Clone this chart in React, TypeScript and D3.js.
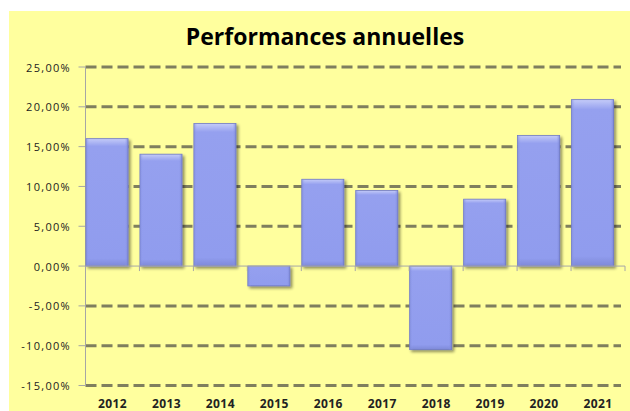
import React from "react";
import * as d3 from "d3";

const years = ["2012", "2013", "2014", "2015", "2016", "2017", "2018", "2019", "2020", "2021"];
const performances = [16.0, 14.05, 17.9, -2.5, 10.9, 9.5, -10.5, 8.4, 16.4, 20.9];
const yTicks = [-15, -10, -5, 0, 5, 10, 15, 20, 25];
const title = "Performances annuelles";

const W = 630;
const H = 411;
const left = 85.5;
const right = 625;
const top = 67;
const bottom = 385.5;

const fmt = (v: number) => v.toFixed(2).replace(".", ",") + "%";

export default function App() {
  const x = d3.scaleBand<string>().domain(years).range([left, right]).padding(0);
  const y = d3.scaleLinear().domain([-15, 25]).range([bottom, top]);
  const bw = x.bandwidth() * 0.78;
  const y0 = y(0);
  const font = "'Open Sans', sans-serif";
  return (
    <svg width={W} height={H} style={{ position: "absolute", left: 0, top: 0 }}>
      <defs>
        <linearGradient id="barV" x1="0" y1="0" x2="0" y2="1">
          <stop offset="0" stopColor="#c4cbf8" />
          <stop offset="0.06" stopColor="#95a0ef" />
          <stop offset="0.94" stopColor="#909cee" />
          <stop offset="1" stopColor="#7e89d8" />
        </linearGradient>
        <linearGradient id="barH" x1="0" y1="0" x2="1" y2="0">
          <stop offset="0" stopColor="#7d88d6" stopOpacity="0.6" />
          <stop offset="0.08" stopColor="#929eef" stopOpacity="0" />
          <stop offset="0.92" stopColor="#929eef" stopOpacity="0" />
          <stop offset="1" stopColor="#6f79c8" stopOpacity="0.7" />
        </linearGradient>
        <filter id="shadow" x="-20%" y="-20%" width="150%" height="150%">
          <feGaussianBlur in="SourceAlpha" stdDeviation="1.5" />
          <feOffset dx="2" dy="2" result="b" />
          <feComponentTransfer>
            <feFuncA type="linear" slope="0.45" />
          </feComponentTransfer>
          <feMerge>
            <feMergeNode />
            <feMergeNode in="SourceGraphic" />
          </feMerge>
        </filter>
      </defs>
      <rect x={9} y={11} width={W - 9} height={H - 11} fill="#ffff9e" />
      <text x={325} y={44.5} textAnchor="middle" fontFamily={font} fontWeight="bold" fontSize={23} fill="#000">
        {title}
      </text>
      {yTicks.filter((t) => t !== 0).map((t) => (
        <line key={"g" + t} x1={left} x2={621} y1={y(t)} y2={y(t)} stroke="#7f7f5e" strokeWidth={3} strokeDasharray="11,5" />
      ))}
      <line x1={left} x2={left} y1={top} y2={bottom} stroke="#a6a6a6" strokeWidth={1} />
      {yTicks.map((t) => (
        <g key={"t" + t}>
          <line x1={left - 7} x2={left} y1={y(t)} y2={y(t)} stroke="#a6a6a6" />
          <text x={71} y={y(t) + 4.5} textAnchor="end" fontFamily={font} fontSize={11} letterSpacing={1.3} fill="#222">
            {fmt(t)}
          </text>
        </g>
      ))}
      {years.map((yr, i) => {
        const v = performances[i];
        const x0 = (x(yr) as number) + 0.5;
        const yt = Math.min(y(v), y0);
        const h = Math.abs(y(v) - y0);
        return (
          <g key={yr} filter="url(#shadow)">
            <rect x={x0} y={yt} width={bw} height={h} fill="url(#barV)" stroke="#6f79c4" strokeWidth={0.8} />
            <rect x={x0} y={yt} width={bw} height={h} fill="url(#barH)" />
          </g>
        );
      })}
      <line x1={left} x2={right} y1={y0} y2={y0} stroke="#a6a6a6" strokeWidth={1} />
      {years.concat(["end"]).map((yr, i) => {
        const xx = left + i * x.step();
        return <line key={"xt" + i} x1={xx} x2={xx} y1={y0} y2={y0 + 5} stroke="#a6a6a6" />;
      })}
      {years.map((yr) => (
        <text key={"l" + yr} x={(x(yr) as number) + x.bandwidth() / 2} y={408} textAnchor="middle" fontFamily={font} fontWeight="bold" fontSize={12} letterSpacing={0.4} fill="#222">
          {yr}
        </text>
      ))}
    </svg>
  );
}
